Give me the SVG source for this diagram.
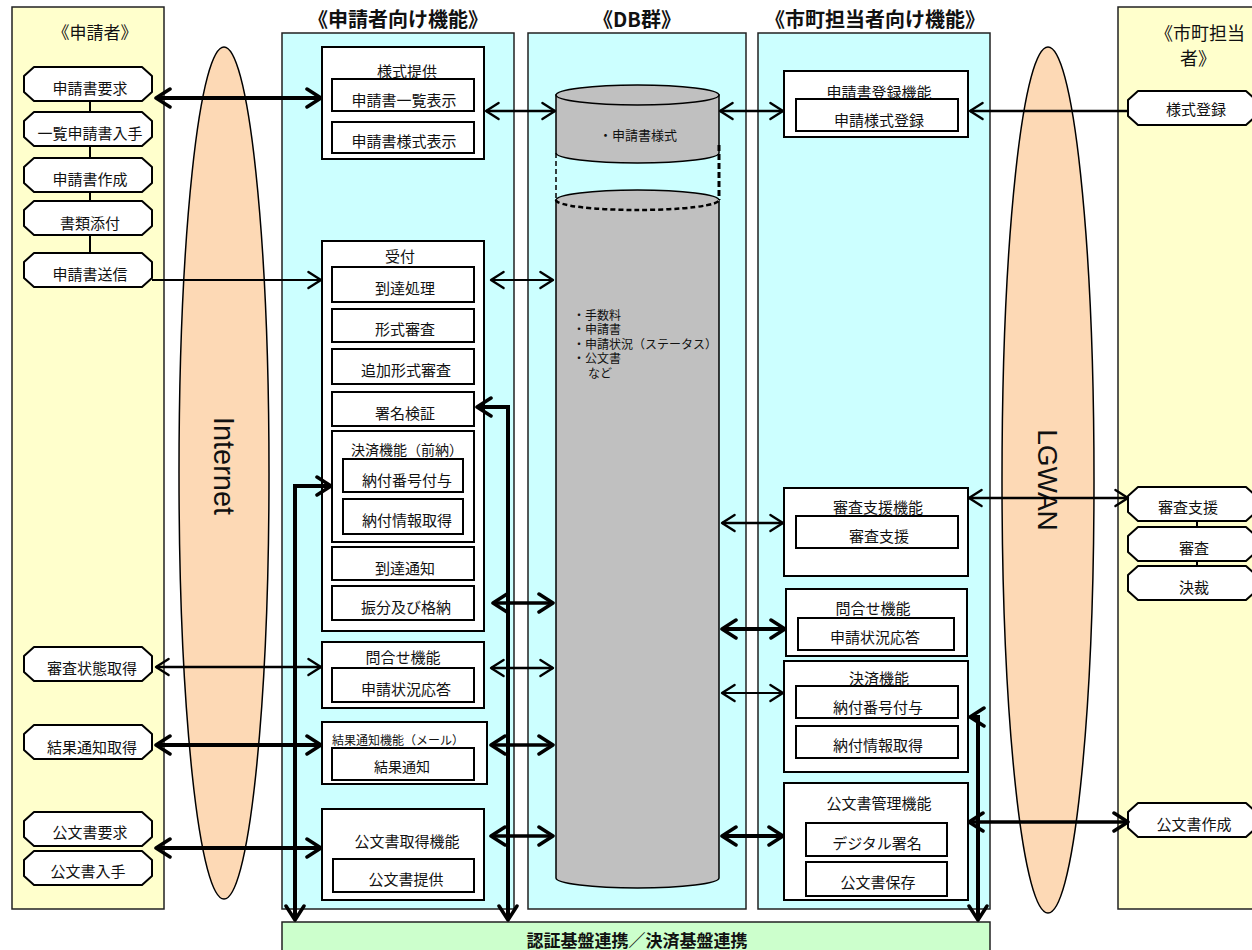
<svg xmlns="http://www.w3.org/2000/svg" width="1252" height="950" viewBox="0 0 1252 950">
<defs>
<style>
.col-y{fill:#ffffcc;stroke:#222;stroke-width:1.5}
.col-c{fill:#ccffff;stroke:#222;stroke-width:1.5}
.col-g{fill:#ccffcc;stroke:#222;stroke-width:1.5}
.box{fill:#fff;stroke:#000;stroke-width:2}
.pill{fill:#fff;stroke:#000;stroke-width:2;stroke-linejoin:round}
.t{font-family:"Noto Sans CJK JP","Noto Sans CJK SC",sans-serif;font-size:15px;fill:#111;text-anchor:middle;dominant-baseline:central}
.s13{font-size:13px}
.s12{font-size:12px}
.s14{font-size:14px}
.dbl{font-size:12px;text-anchor:start}
.h{font-size:20px;font-weight:bold}
.h2{font-size:17px}
.st{text-anchor:start}
.en{font-family:"Liberation Sans",Arial,sans-serif;font-size:29px;fill:#111;text-anchor:middle;dominant-baseline:central}
.ln{fill:none;stroke:#000;stroke-linejoin:miter}
.k{stroke-width:4}
.k3{stroke-width:3.5}
.m{stroke-width:2.5}
.n{stroke-width:2}
.tie{stroke:#000;stroke-width:2}
.sp{fill:#fdd9b5;stroke:#000;stroke-width:1.5}
.db{fill:#c0c0c0;stroke:#000;stroke-width:1.5}
</style>
<marker id="ak" viewBox="0 0 20 22" refX="17" refY="11" markerWidth="20" markerHeight="22" markerUnits="userSpaceOnUse" orient="auto-start-reverse">
<path d="M3,2 L17,11 L3,20" fill="none" stroke="#000" stroke-width="3.5" stroke-linecap="round" stroke-linejoin="round"/>
</marker>
<marker id="am" viewBox="0 0 20 22" refX="17" refY="11" markerWidth="18" markerHeight="20" markerUnits="userSpaceOnUse" orient="auto-start-reverse">
<path d="M3,2 L17,11 L3,20" fill="none" stroke="#000" stroke-width="2.6" stroke-linecap="round" stroke-linejoin="round"/>
</marker>
<path id="pillshape" d="M10,0 H118 L128,9 V25 L118,34 H10 L0,25 V9 Z"/>
</defs>

<!-- columns -->
<g id="col-applicant">
<rect class="col-y" x="12" y="7" width="152" height="902"/>
<text class="t h2" x="95" y="31">《申請者》</text>
</g>
<g id="col-applicant-func">
<rect class="col-c" x="282" y="33" width="232" height="876"/>
<text class="t h" x="398" y="18">《申請者向け機能》</text>
</g>
<g id="col-db">
<rect class="col-c" x="528" y="33" width="218" height="876"/>
<text class="t h" x="637" y="18">《DB群》</text>
</g>
<g id="col-city-func">
<rect class="col-c" x="758" y="33" width="232" height="876"/>
<text class="t h" x="875" y="18">《市町担当者向け機能》</text>
</g>
<g id="col-city">
<rect class="col-y" x="1118" y="7" width="140" height="902"/>
<text class="t" style="font-size:18px" x="1200" y="32">《市町担当</text>
<text class="t" style="font-size:18px" x="1198" y="57">者》</text>
</g>

<g id="internet">
<ellipse class="sp" cx="224" cy="473" rx="45" ry="426"/>
<text class="en" x="224" y="466" transform="rotate(90 224 466)">Internet</text>
</g>
<g id="lgwan">
<ellipse class="sp" cx="1048" cy="480" rx="46" ry="433"/>
<text class="en" style="font-size:28px" x="1047" y="480" transform="rotate(90 1047 480)">LGWAN</text>
</g>

<g id="platform">
<rect class="col-g" x="282" y="922" width="708" height="40"/>
<text class="t" style="font-size:17px;font-weight:bold" x="637" y="939">認証基盤連携／決済基盤連携</text>
</g>

<!-- DB cylinder -->
<g id="db">
<path class="db" d="M556,95 V153 A81.5,10 0 0 0 719,153 V95 Z"/>
<ellipse class="db" cx="637.5" cy="95" rx="81.5" ry="10"/>
<text class="t s13" x="638" y="134">・申請書様式</text>
<line x1="556" y1="153" x2="556" y2="200" stroke="#000" stroke-width="1.5" stroke-dasharray="5,3"/>
<line x1="719" y1="145" x2="719" y2="200" stroke="#000" stroke-width="3" stroke-dasharray="6,3"/>
<path class="db" d="M556,200 V878 A81.5,10 0 0 0 719,878 V200 Z"/>
<ellipse cx="637.5" cy="200" rx="81.5" ry="10" fill="#c0c0c0"/>
<path d="M556,200 A81.5,10 0 0 1 719,200" fill="none" stroke="#000" stroke-width="1.5"/>
<path d="M556,200 A81.5,10 0 0 0 719,200" fill="none" stroke="#000" stroke-width="2.5" stroke-dasharray="5,3"/>
<text class="t dbl" x="573" y="314">・手数料</text>
<text class="t dbl" x="573" y="328.5">・申請書</text>
<text class="t dbl" x="573" y="343">・申請状況（ステータス）</text>
<text class="t dbl" x="573" y="357.5">・公文書</text>
<text class="t dbl" x="588" y="372">など</text>
</g>

<!-- applicant pills -->
<g id="ties-left">
<line class="tie" x1="90" y1="101" x2="90" y2="112"/>
<line class="tie" x1="90" y1="146" x2="90" y2="158"/>
<line class="tie" x1="90" y1="192" x2="90" y2="201"/>
<line class="tie" x1="90" y1="235" x2="90" y2="253"/>
</g>
<g id="p-req"><use href="#pillshape" class="pill" x="24" y="67"/><text class="t" x="90" y="87">申請書要求</text></g>
<g id="p-list"><use href="#pillshape" class="pill" x="24" y="112"/><text class="t" x="90" y="132">一覧申請書入手</text></g>
<g id="p-make"><use href="#pillshape" class="pill" x="24" y="158"/><text class="t" x="90" y="178">申請書作成</text></g>
<g id="p-attach"><use href="#pillshape" class="pill" x="24" y="201"/><text class="t" x="90" y="222">書類添付</text></g>
<g id="p-send"><use href="#pillshape" class="pill" x="24" y="253"/><text class="t" x="90" y="273">申請書送信</text></g>
<g id="p-status"><use href="#pillshape" class="pill" x="24" y="647"/><text class="t" x="92" y="667">審査状態取得</text></g>
<g id="p-result"><use href="#pillshape" class="pill" x="24" y="725"/><text class="t" x="92" y="746">結果通知取得</text></g>
<g id="p-docreq"><use href="#pillshape" class="pill" x="24" y="812"/><text class="t" x="90" y="831">公文書要求</text></g>
<g id="p-docget"><use href="#pillshape" class="pill" x="24" y="851"/><text class="t" x="88" y="870">公文書入手</text></g>

<!-- applicant function boxes -->
<g id="f-form">
<rect class="box" x="322" y="47" width="162" height="112"/>
<text class="t" x="407" y="70">様式提供</text>
<rect class="box" x="332" y="79" width="142" height="32"/>
<text class="t" x="404" y="99">申請書一覧表示</text>
<rect class="box" x="332" y="122" width="142" height="31"/>
<text class="t" x="404" y="140">申請書様式表示</text>
</g>
<g id="f-recv">
<rect class="box" x="322" y="241" width="162" height="390"/>
<text class="t" x="400" y="255">受付</text>
<rect class="box" x="332" y="267" width="142" height="35"/>
<text class="t" x="405" y="287">到達処理</text>
<rect class="box" x="332" y="309" width="142" height="33"/>
<text class="t" x="405" y="328">形式審査</text>
<rect class="box" x="332" y="349" width="142" height="35"/>
<text class="t" x="406" y="369">追加形式審査</text>
<rect class="box" x="332" y="392" width="142" height="34"/>
<text class="t" x="405" y="412">署名検証</text>
<rect class="box" x="332" y="431" width="142" height="111"/>
<text class="t s14" x="407" y="449">決済機能（前納）</text>
<rect class="box" x="343" y="459" width="120" height="33"/>
<text class="t" x="407" y="479">納付番号付与</text>
<rect class="box" x="343" y="499" width="120" height="35"/>
<text class="t" x="407" y="519">納付情報取得</text>
<rect class="box" x="332" y="547" width="142" height="33"/>
<text class="t" x="405" y="567">到達通知</text>
<rect class="box" x="332" y="586" width="142" height="34"/>
<text class="t" x="406" y="606">振分及び格納</text>
</g>
<g id="f-inq">
<rect class="box" x="322" y="642" width="162" height="66"/>
<text class="t" x="403" y="656">問合せ機能</text>
<rect class="box" x="332" y="668" width="142" height="34"/>
<text class="t" x="406" y="688">申請状況応答</text>
</g>
<g id="f-notify">
<rect class="box" x="322" y="722" width="165" height="62"/>
<text class="t s12" x="398" y="739">結果通知機能（メール）</text>
<rect class="box" x="332" y="748" width="142" height="32"/>
<text class="t s14" x="402" y="766">結果通知</text>
</g>
<g id="f-docget">
<rect class="box" x="322" y="809" width="162" height="91"/>
<text class="t" x="407" y="840">公文書取得機能</text>
<rect class="box" x="333" y="859" width="141" height="33"/>
<text class="t" x="406" y="878">公文書提供</text>
</g>

<!-- city function boxes -->
<g id="c-reg">
<rect class="box" x="784" y="71" width="184" height="66"/>
<text class="t" x="879" y="91">申請書登録機能</text>
<rect class="box" x="796" y="99" width="162" height="32"/>
<text class="t" x="879" y="119">申請様式登録</text>
</g>
<g id="c-review">
<rect class="box" x="784" y="488" width="184" height="88"/>
<text class="t" x="878" y="506">審査支援機能</text>
<rect class="box" x="796" y="516" width="162" height="32"/>
<text class="t" x="879" y="535">審査支援</text>
</g>
<g id="c-inq">
<rect class="box" x="786" y="589" width="181" height="67"/>
<text class="t" x="873" y="607">問合せ機能</text>
<rect class="box" x="798" y="618" width="156" height="32"/>
<text class="t" x="875" y="636">申請状況応答</text>
</g>
<g id="c-pay">
<rect class="box" x="784" y="661" width="184" height="111"/>
<text class="t" x="879" y="677">決済機能</text>
<rect class="box" x="796" y="686" width="162" height="32"/>
<text class="t" x="878" y="706">納付番号付与</text>
<rect class="box" x="796" y="726" width="162" height="32"/>
<text class="t" x="878" y="744">納付情報取得</text>
</g>
<g id="c-doc">
<rect class="box" x="784" y="783" width="184" height="117"/>
<text class="t" x="879" y="802">公文書管理機能</text>
<rect class="box" x="806" y="823" width="141" height="33"/>
<text class="t" x="877" y="842">デジタル署名</text>
<rect class="box" x="806" y="862" width="141" height="34"/>
<text class="t" x="878" y="881">公文書保存</text>
</g>

<!-- city staff pills -->
<g id="ties-right">
<line class="tie" x1="1197" y1="521" x2="1197" y2="527"/>
<line class="tie" x1="1197" y1="561" x2="1197" y2="566"/>
</g>
<g id="r-form"><use href="#pillshape" class="pill" x="1128" y="91"/><text class="t" x="1196" y="108">様式登録</text></g>
<g id="r-support"><use href="#pillshape" class="pill" x="1128" y="487"/><text class="t" x="1188" y="506">審査支援</text></g>
<g id="r-review"><use href="#pillshape" class="pill" x="1128" y="527"/><text class="t" x="1194" y="547">審査</text></g>
<g id="r-approve"><use href="#pillshape" class="pill" x="1128" y="566"/><text class="t" x="1194" y="586">決裁</text></g>
<g id="r-doc"><use href="#pillshape" class="pill" x="1128" y="803"/><text class="t" x="1194" y="823">公文書作成</text></g>

<!-- connectors -->
<g id="connectors">
<path class="ln k" d="M156,98 H321" marker-start="url(#ak)" marker-end="url(#ak)"/>
<path class="ln n" d="M152,280 H321" marker-end="url(#am)"/>
<path class="ln m" d="M486,111 H555" marker-start="url(#am)" marker-end="url(#am)"/>
<path class="ln m" d="M720,111 H783" marker-start="url(#am)" marker-end="url(#am)"/>
<path class="ln m" d="M1128,111 H970" marker-end="url(#am)"/>
<path class="ln n" d="M491,280 H553" marker-start="url(#am)" marker-end="url(#am)"/>
<path class="ln k" d="M508,920 V407 H477" marker-start="url(#ak)" marker-end="url(#ak)"/>
<path class="ln k" d="M295,920 V486 H331" marker-start="url(#ak)" marker-end="url(#ak)"/>
<path class="ln k3" d="M493,603 H553" marker-start="url(#ak)" marker-end="url(#ak)"/>
<path class="ln m" d="M156,667 H321" marker-start="url(#am)" marker-end="url(#am)"/>
<path class="ln m" d="M491,668 H553" marker-start="url(#am)" marker-end="url(#am)"/>
<path class="ln k" d="M156,745 H321" marker-start="url(#ak)" marker-end="url(#ak)"/>
<path class="ln k3" d="M491,745 H553" marker-start="url(#ak)" marker-end="url(#ak)"/>
<path class="ln k" d="M156,848 H321" marker-start="url(#ak)" marker-end="url(#ak)"/>
<path class="ln k3" d="M491,836 H553" marker-start="url(#ak)" marker-end="url(#ak)"/>
<path class="ln m" d="M722,523 H783" marker-start="url(#am)" marker-end="url(#am)"/>
<path class="ln k" d="M722,629 H785" marker-start="url(#ak)" marker-end="url(#ak)"/>
<path class="ln n" d="M722,693 H783" marker-start="url(#am)" marker-end="url(#am)"/>
<path class="ln k" d="M722,836 H783" marker-start="url(#ak)" marker-end="url(#ak)"/>
<path class="ln m" d="M969,498 H1128" marker-start="url(#am)" marker-end="url(#am)"/>
<path class="ln k3" d="M969,822 H1128" marker-start="url(#ak)" marker-end="url(#ak)"/>
<path class="ln k" d="M978,920 V717 H970" marker-start="url(#ak)" marker-end="url(#ak)"/>
</g>
</svg>
